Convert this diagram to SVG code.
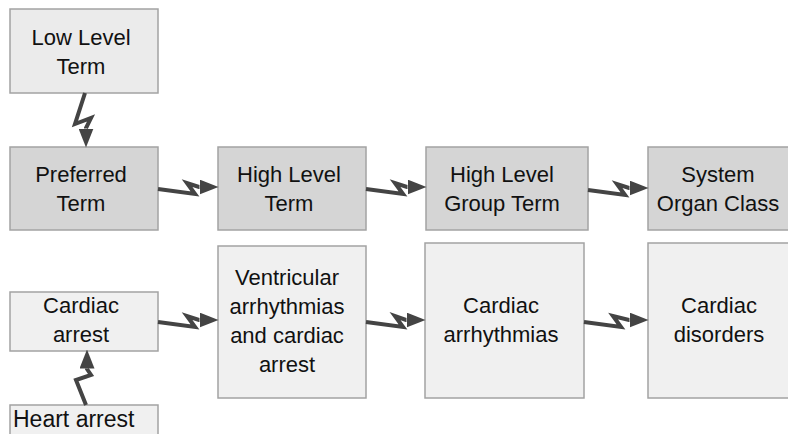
<svg xmlns="http://www.w3.org/2000/svg" width="788" height="434" viewBox="0 0 788 434">
<style>
.box{stroke:#a3a3a3;stroke-width:1.5}
.dark{fill:#d5d5d5}
.lt1{fill:#ebebeb}
.lt2{fill:#f0f0f0}
text{font-family:"Liberation Sans",Arial,sans-serif;font-size:22px;fill:#111;text-anchor:middle}
.con{fill:none;stroke:#444;stroke-width:4;stroke-linejoin:miter}
</style>
<defs>
<marker id="ah" markerUnits="userSpaceOnUse" markerWidth="19" markerHeight="15" viewBox="0 0 19 15" refX="0" refY="7.5" orient="auto">
<path d="M0,0 L19,7.5 L0,15 z" fill="#444"/>
</marker>
</defs>
<rect width="788" height="434" fill="#fff"/>
<g id="llt"><rect class="box lt1" x="10" y="9" width="148" height="84"/><text><tspan x="81" y="44.5">Low Level</tspan><tspan x="81" y="73.5">Term</tspan></text></g>
<g id="pt"><rect class="box dark" x="10" y="147" width="148" height="83"/><text><tspan x="81" y="182">Preferred</tspan><tspan x="81" y="211">Term</tspan></text></g>
<g id="hlt"><rect class="box dark" x="218" y="147" width="148" height="83"/><text><tspan x="289" y="182">High Level</tspan><tspan x="289" y="211">Term</tspan></text></g>
<g id="hlgt"><rect class="box dark" x="426" y="147" width="162" height="83"/><text><tspan x="502" y="182">High Level</tspan><tspan x="502" y="211">Group Term</tspan></text></g>
<g id="soc"><rect class="box dark" x="648" y="147" width="142" height="83"/><text><tspan x="718" y="182">System</tspan><tspan x="718" y="211">Organ Class</tspan></text></g>
<g id="ca"><rect class="box lt2" x="10" y="292" width="148" height="59"/><text><tspan x="81" y="313">Cardiac</tspan><tspan x="81" y="342">arrest</tspan></text></g>
<g id="ha"><rect class="box lt2" x="10" y="405" width="148" height="34"/><text style="text-anchor:start;font-size:23px" x="13" y="427">Heart arrest</text></g>
<g id="vent"><rect class="box lt2" x="218" y="246" width="148" height="152"/><text><tspan x="287" y="285">Ventricular</tspan><tspan x="287" y="314">arrhythmias</tspan><tspan x="287" y="343">and cardiac</tspan><tspan x="287" y="372">arrest</tspan></text></g>
<g id="carr"><rect class="box lt2" x="425" y="243" width="159" height="155"/><text><tspan x="501" y="313">Cardiac</tspan><tspan x="501" y="342">arrhythmias</tspan></text></g>
<g id="cd"><rect class="box lt2" x="648" y="243" width="142" height="155"/><text><tspan x="719" y="313">Cardiac</tspan><tspan x="719" y="342">disorders</tspan></text></g>
<g id="connectors">
<path class="con" marker-end="url(#ah)" d="M85,93 L75,124 L91,118 L86,128 L86,128.5"/>
<path class="con" marker-end="url(#ah)" d="M86,405 L76,380 L91,375 L87,369 L87,368.5"/>
<path class="con" marker-end="url(#ah)" d="M158,189 L195,194 L187,183 L199,187 L199.5,187"/>
<path class="con" marker-end="url(#ah)" d="M366,189 L403,194 L395,183 L407,187 L407.5,187"/>
<path class="con" marker-end="url(#ah)" d="M588,190 L625,195 L617,184 L629,188 L629.5,188"/>
<path class="con" marker-end="url(#ah)" d="M158,322 L195,327 L187,316 L199,320 L199.5,320"/>
<path class="con" marker-end="url(#ah)" d="M366,322 L403,327 L395,316 L406,320 L406.5,320"/>
<path class="con" marker-end="url(#ah)" d="M584,322 L621,327 L613,316 L629,320 L629.5,320"/>
</g>
</svg>
